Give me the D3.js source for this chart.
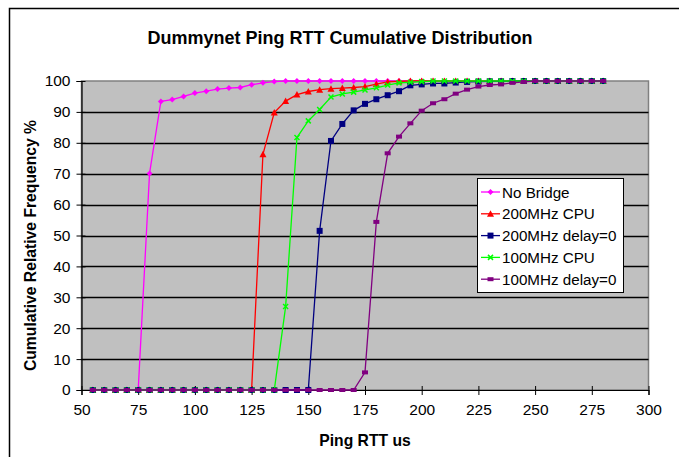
<!DOCTYPE html>
<html>
<head>
<meta charset="utf-8">
<script src="https://cdn.jsdelivr.net/npm/d3@7"></script>
<style>
  html, body { margin: 0; padding: 0; background: #fff; }
  svg { display: block; font-family: "Liberation Sans", Arial, sans-serif; }
</style>
</head>
<body>
<svg id="chart" width="679" height="457"></svg>
<script>
// Ping round-trip times (us), sampled every 5 us
const rtt = [55,60,65,70,75,80,85,90,95,100,105,110,115,120,125,130,135,140,145,150,
             155,160,165,170,175,180,185,190,195,200,205,210,215,220,225,230,235,240,245,250,
             255,260,265,270,275,280];

// Cumulative relative frequency (%) per configuration
const noBridge = [0,0,0,0,0,70.1,93.4,94.0,95.0,96.1,96.7,97.4,97.7,97.9,98.8,99.4,99.8,100,100,100,
                  100,100,100,100,100,100,100,100,100,100,100,100,100,100,100,100,100,100,100,100,
                  100,100,100,100,100,100];
const cpu200 = [0,0,0,0,0,0,0,0,0,0,0,0,0,0,0,76.3,89.8,93.5,95.6,96.6,
                97.2,97.5,97.7,97.9,98.2,99.0,99.7,99.9,100,100,100,100,100,100,100,100,100,100,100,100,
                100,100,100,100,100,100];
const delay200 = [0,0,0,0,0,0,0,0,0,0,0,0,0,0,0,0,0,0,0,0,
                  51.5,80.6,86.1,90.5,92.6,94.1,95.4,96.7,98.6,98.9,99.2,99.2,99.5,99.7,99.8,99.9,99.9,100,100,100,
                  100,100,100,100,100,100];
const cpu100 = [0,0,0,0,0,0,0,0,0,0,0,0,0,0,0,0,0,27.0,81.7,87.1,
                90.8,94.8,95.8,96.4,97.1,97.8,98.7,99.4,99.6,99.8,100,100,100,100,100,100,100,100,100,100,
                100,100,100,100,100,100];
const delay100 = [0,0,0,0,0,0,0,0,0,0,0,0,0,0,0,0,0,0,0,0,
                  0,0,0,0,5.7,54.4,76.6,82.0,86.3,90.4,92.8,94.1,95.9,97.2,98.2,98.7,98.9,99.4,99.7,100,
                  100,100,100,100,100,100];

const seriesNames = ["No Bridge", "200MHz CPU", "200MHz delay=0", "100MHz CPU", "100MHz delay=0"];
const seriesValues = [noBridge, cpu200, delay200, cpu100, delay100];
const seriesColors = ["#FF00FF", "#FF0000", "#000080", "#00FF00", "#800080"];
const seriesMarkers = ["diamond", "triangle", "square", "cross", "bar"];

const xTicks = [50,75,100,125,150,175,200,225,250,275,300];
const yTicks = [0,10,20,30,40,50,60,70,80,90,100];

const svg = d3.select("#chart");

// Outer chart frame
svg.append("path")
  .attr("d", "M9.5,460 V8.5 H690")
  .attr("fill", "none").attr("stroke", "#000").attr("stroke-width", 1.5);

const plot = {left: 81.5, right: 648.5, top: 81, bottom: 390};
const x = d3.scaleLinear().domain([50, 300]).range([plot.left, plot.right]);
const y = d3.scaleLinear().domain([0, 100]).range([plot.bottom, plot.top]);

// Plot area
svg.append("rect")
  .attr("x", plot.left).attr("y", plot.top)
  .attr("width", plot.right - plot.left).attr("height", plot.bottom - plot.top)
  .attr("fill", "#C0C0C0").attr("stroke", "#808080").attr("stroke-width", 1.5);

// Horizontal gridlines
svg.append("g").selectAll("line").data(yTicks.filter(d => d > 0 && d < 100)).join("line")
  .attr("x1", plot.left).attr("x2", plot.right)
  .attr("y1", d => Math.round(y(d)) + 0.5).attr("y2", d => Math.round(y(d)) + 0.5)
  .attr("stroke", "#000").attr("stroke-width", 1.3);

// Axes
const yAxis = svg.append("g")
  .attr("transform", `translate(${plot.left},0)`)
  .call(d3.axisLeft(y).tickValues(yTicks).tickSize(5).tickPadding(6));
const xAxis = svg.append("g")
  .attr("transform", `translate(0,${plot.bottom})`)
  .call(d3.axisBottom(x).tickValues(xTicks).tickSize(5).tickPadding(9));

[yAxis, xAxis].forEach(g => {
  g.select(".domain").attr("stroke", "#000").attr("stroke-width", 1.2);
  g.selectAll(".tick line").attr("stroke", "#000");
  g.selectAll("text").attr("font-size", 15.5).attr("fill", "#000")
    .attr("font-family", "'Liberation Sans', Arial, sans-serif");
});
yAxis.selectAll(".tick line").attr("x2", 4).attr("x1", -5);
xAxis.selectAll(".tick line").attr("y1", -4).attr("y2", 5);

// Titles
svg.append("text").attr("x", 340).attr("y", 44).attr("text-anchor", "middle")
  .attr("font-size", 18).attr("font-weight", "bold")
  .text("Dummynet Ping RTT Cumulative Distribution");
svg.append("text").attr("x", 365).attr("y", 446).attr("text-anchor", "middle")
  .attr("font-size", 15.7).attr("font-weight", "bold").text("Ping RTT us");
svg.append("text")
  .attr("transform", `translate(36,${(plot.top + plot.bottom) / 2 + 10}) rotate(-90)`)
  .attr("text-anchor", "middle")
  .attr("font-size", 15.7).attr("font-weight", "bold").text("Cumulative Relative Frequency %");

// Marker drawing
function drawMarker(sel, kind, color) {
  if (kind === "diamond") {
    sel.append("path").attr("d", "M0,-3 L3,0 L0,3 L-3,0 Z").attr("fill", color);
  } else if (kind === "triangle") {
    sel.append("path").attr("d", "M0,-3.5 L3.5,3 L-3.5,3 Z").attr("fill", color);
  } else if (kind === "square") {
    sel.append("rect").attr("x", -3).attr("y", -3).attr("width", 6).attr("height", 6).attr("fill", color);
  } else if (kind === "cross") {
    sel.append("path").attr("d", "M-2.5,-2.5 L2.5,2.5 M-2.5,2.5 L2.5,-2.5")
      .attr("stroke", color).attr("stroke-width", 1.5);
  } else if (kind === "bar") {
    sel.append("rect").attr("x", -3).attr("y", -2).attr("width", 6).attr("height", 4).attr("fill", color);
  }
}

const line = d3.line().x(d => x(d[0])).y(d => y(d[1]));

seriesValues.forEach((vals, i) => {
  const pts = rtt.map((r, j) => [r, vals[j]]);
  const g = svg.append("g");
  g.append("path").datum(pts).attr("d", line)
    .attr("fill", "none").attr("stroke", seriesColors[i]).attr("stroke-width", 1.3);
  g.selectAll("g.m").data(pts).join("g").attr("class", "m")
    .attr("transform", d => `translate(${x(d[0])},${y(d[1])})`)
    .each(function() { drawMarker(d3.select(this), seriesMarkers[i], seriesColors[i]); });
});

// Legend
const leg = svg.append("g");
leg.append("rect").attr("x", 477.5).attr("y", 178.5).attr("width", 146).attr("height", 114)
  .attr("fill", "#fff").attr("stroke", "#000").attr("stroke-width", 1);
seriesNames.forEach((name, i) => {
  const cy = 192 + i * 21.8;
  const item = leg.append("g");
  item.append("line").attr("x1", 481).attr("x2", 500).attr("y1", cy).attr("y2", cy)
    .attr("stroke", seriesColors[i]).attr("stroke-width", 1.3);
  const m = item.append("g").attr("transform", `translate(490.5,${cy})`);
  drawMarker(m, seriesMarkers[i], seriesColors[i]);
  item.append("text").attr("x", 502).attr("y", cy + 5.5).attr("font-size", 15.2).text(name);
});
</script>
</body>
</html>
